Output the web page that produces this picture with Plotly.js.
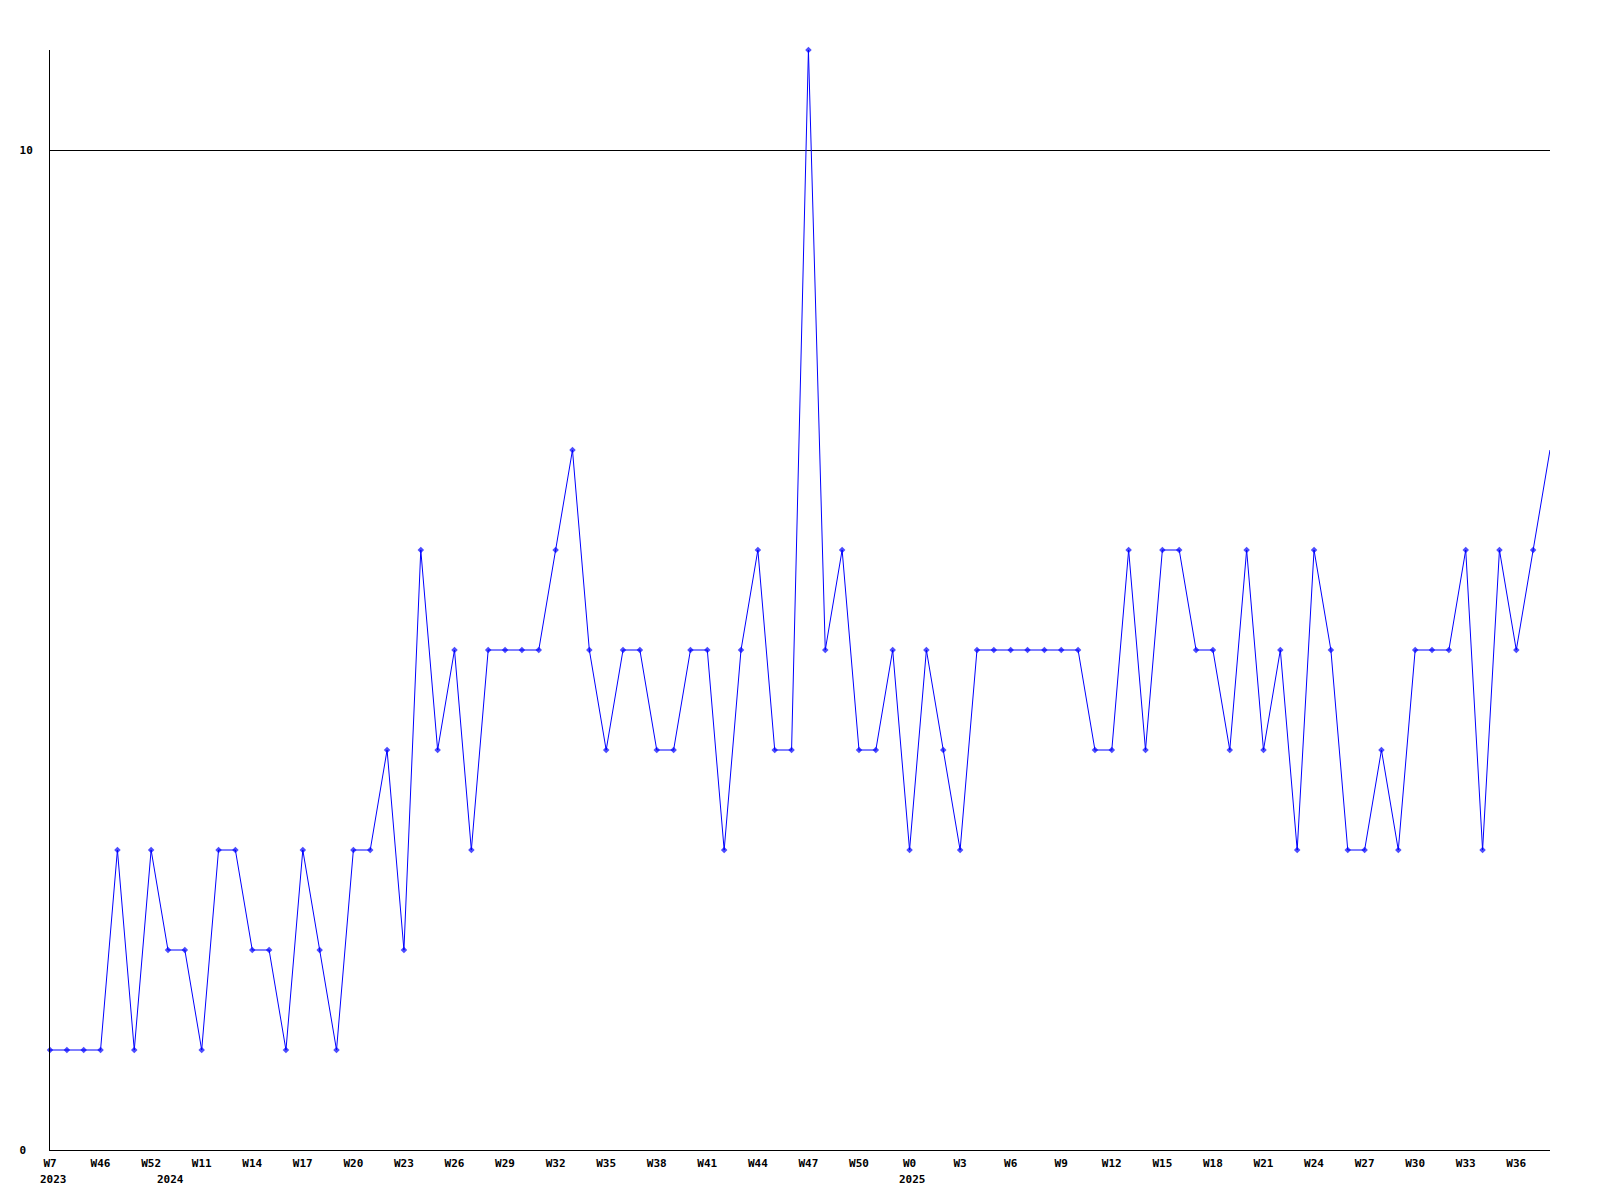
<!DOCTYPE html>
<html>
<head>
<meta charset="utf-8">
<script src="https://cdn.plot.ly/plotly-3.0.1.min.js"></script>
<style>html,body{margin:0;padding:0;background:#fff;}#chart{width:1600px;height:1200px;}</style>
</head>
<body>
<div id="chart"></div>
<script>
// Weekly values, one per point (index 0..89)
const values = [1,1,1,1,3,1,3,2,2,1,3,3,2,2,1,3,2,1,3,3,4,2,6,4,5,3,5,5,5,5,6,7,5,4,5,5,4,4,5,5,3,5,6,4,4,11,5,6,4,4,5,3,5,4,3,5,5,5,5,5,5,5,4,4,6,4,6,6,5,5,4,6,4,5,3,6,5,3,3,4,3,5,5,5,6,3,6,5,6,7];
// Tick labels (every third point)
const tickIndex = [0,3,6,9,12,15,18,21,24,27,30,33,36,39,42,45,48,51,54,57,60,63,66,69,72,75,78,81,84,87];
const weekLabels = ["W7","W46","W52","W11","W14","W17","W20","W23","W26","W29","W32","W35","W38","W41","W44","W47","W50","W0","W3","W6","W9","W12","W15","W18","W21","W24","W27","W30","W33","W36"];
// Year labels and the point index where they appear
const yearIndex = [0,7,51];
const yearLabels = ["2023","2024","2025"];
const yTickVals = [0,10];
const yTickText = ["0 ","10"];

const xIdx = values.map((v,i)=>i);
const sizes = values.map((v,i)=> i===values.length-1 ? 0 : 5);
const tfont = {family:"DejaVu Sans Mono, monospace", size:11, weight:"bold", color:"#000"};

const annotations = yearIndex.map((ix,k)=>({
  x: ix, xref:"x", y:0, yref:"paper", text: yearLabels[k], showarrow:false,
  xanchor:"center", yanchor:"middle", xshift:3, yshift:-29, font:tfont
}));

Plotly.newPlot("chart",[{
  x:xIdx, y:values, type:"scatter", mode:"lines+markers",
  line:{color:"#0000ff", width:1},
  marker:{color:"#0000ff", size:sizes, symbol:"diamond", line:{width:0}},
  cliponaxis:false, hoverinfo:"none"
}],{
  width:1600, height:1200,
  margin:{l:50, r:50, t:50, b:50, pad:0},
  paper_bgcolor:"#fff", plot_bgcolor:"#fff",
  showlegend:false,
  font:{family:"DejaVu Sans Mono, monospace", size:11, color:"#000"},
  annotations: annotations,
  xaxis:{range:[0,89], tickmode:"array", tickvals:tickIndex, ticktext:weekLabels, tickangle:0,
    showgrid:false, zeroline:false, showline:true, linecolor:"#000", linewidth:1,
    ticks:"", tickfont:tfont, ticklabelstandoff:3, automargin:false},
  yaxis:{range:[0,11], tickmode:"array", tickvals:yTickVals, ticktext:yTickText,
    showgrid:true, gridcolor:"#000", gridwidth:1, zeroline:false,
    showline:true, linecolor:"#000", linewidth:1, ticks:"",
    tickfont:tfont, ticklabelstandoff:14, automargin:false}
},{staticPlot:true});
</script>
</body>
</html>
